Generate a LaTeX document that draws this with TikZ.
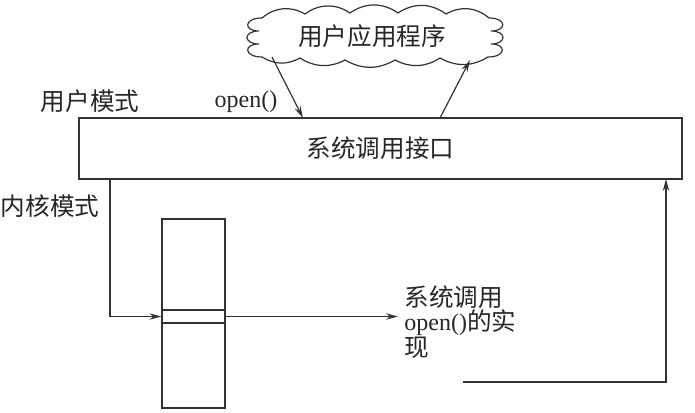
\documentclass[tikz,border=0pt]{standalone}
\usepackage{fontspec}
\setmainfont{Liberation Serif}
\newfontfamily\cjk{Noto Sans CJK SC}
\usetikzlibrary{arrows.meta,positioning}
\begin{document}
\begin{tikzpicture}[x=0.5pt,y=-0.5pt,
    line/.style={draw=black!80, line width=0.6pt},
    arr/.style={line, -{Stealth[length=6pt,width=3.2pt]}},
    lbl/.style={font=\cjk\fontsize{12.3}{12}\selectfont, inner sep=0pt, text=black!85},
    box/.style={line, inner sep=0pt}
]
\useasboundingbox (0,0) rectangle (695,412);

%% user side
\node[lbl] (app) at (372,36) {用户应用程序};
\draw[line] (262,18) to[bend left=35] (305,14) to[bend left=35] (350,13)
    to[bend left=35] (398,13) to[bend left=35] (446,14) to[bend left=35] (489,18)
    .. controls +(18,0) and +(16,0) .. (491,31)
    .. controls +(16,0) and +(16,0) .. (491,44)
    .. controls +(16,0) and +(18,0) .. (488,57)
    to[bend left=30] (440,58) to[bend left=30] (395,60) to[bend left=30] (345,60)
    to[bend left=30] (300,58) to[bend left=30] (262,57)
    .. controls +(-18,0) and +(-16,0) .. (259,44)
    .. controls +(-16,0) and +(-16,0) .. (259,31)
    .. controls +(-16,0) and +(-18,0) .. (262,18) -- cycle;
\node[box, lbl, minimum width=301.5pt, minimum height=30.5pt] (iface) at (380.5,148.5) {系统调用接口};
\node[lbl] (umode) at (90,101) {用户模式};
\node[inner sep=0pt, font=\fontsize{12}{14}\selectfont, text=black!85] (opencall) at (246,102) {open()};
\coordinate (callfrom) at (272,57);
\coordinate (callto)   at (303,118);
\coordinate (retfrom)  at (440,118);
\coordinate (retto)    at (470,60);
\draw[arr] (callfrom) -- (callto);
\draw[arr] (retfrom) -- (retto);

%% kernel side
\node[lbl] (kmode) at (50,206) {内核模式};
\node[box, minimum width=31.5pt, minimum height=94.5pt] (impl) at (193.5,313.5) {};
\node[box, minimum width=31.5pt, minimum height=6.5pt] (slot) at (193.5,316.5) {};
\node[lbl, align=left, anchor=north west] (impltxt) at (404,285)
     {系统调用\\{\rmfamily\fontsize{12}{12}\selectfont open()}的实\\现};
\coordinate (kdown)   at (110,179);
\coordinate (implend) at (398,316.5);
\coordinate (retstart) at (463,382);
\coordinate (retend)  at (666,179);
\draw[arr] (kdown) |- (slot.west);
\draw[arr] (slot.east) -- (implend);
\draw[arr] (retstart) -| (retend);
\end{tikzpicture}
\end{document}
